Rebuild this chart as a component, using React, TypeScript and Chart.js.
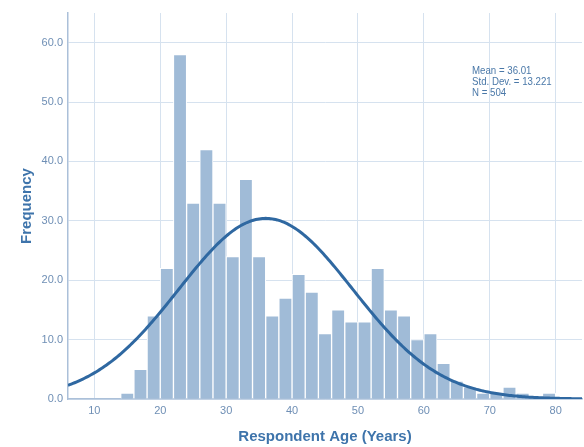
import React, { useEffect, useRef } from "react";
import { Chart, registerables } from "chart.js";

Chart.register(...registerables);

// Histogram bins (2-year width): bin start ages
const binStarts = [14, 16, 18, 20, 22, 24, 26, 28, 30, 32, 34, 36, 38, 40, 42, 44, 46, 48, 50, 52, 54, 56, 58, 60, 62, 64, 66, 68, 70, 72, 74, 76, 78];
const frequencies = [1, 5, 14, 22, 58, 33, 42, 33, 24, 37, 24, 14, 17, 21, 18, 11, 15, 13, 13, 22, 15, 14, 10, 11, 6, 3, 2, 1, 1, 2, 1, 0, 1];
const BIN_WIDTH = 2;
const MEAN = 36.01;
const STD_DEV = 13.221;
const N = 504;
const xTicks = [10, 20, 30, 40, 50, 60, 70, 80];
const yTicks = [0, 10, 20, 30, 40, 50, 60];
const statsLines = ["Mean = 36.01", "Std. Dev. = 13.221", "N = 504"];
const X_MIN = 6;
const X_MAX = 84;
const Y_MAX = 65;

export default function App() {
  const ref = useRef<HTMLCanvasElement | null>(null);

  useEffect(() => {
    document.body.style.margin = "0";
    const canvas = ref.current;
    if (!canvas) return;

    const barData = binStarts.map((s, i) => ({ x: s + BIN_WIDTH / 2, y: frequencies[i] }));
    const curve: { x: number; y: number }[] = [];
    for (let x = X_MIN; x <= X_MAX + 0.001; x += 0.25) {
      const z = (x - MEAN) / STD_DEV;
      curve.push({ x, y: (N * BIN_WIDTH) / (STD_DEV * Math.sqrt(2 * Math.PI)) * Math.exp(-0.5 * z * z) });
    }

    const statsPlugin = {
      id: "stats",
      afterDraw(chart: any) {
        const ctx = chart.ctx;
        ctx.save();
        ctx.font = "11px 'Liberation Sans', Arial, sans-serif";
        ctx.fillStyle = "#4a78a8";
        ctx.textAlign = "left";
        ctx.textBaseline = "middle";
        ctx.translate(472, 0);
        ctx.scale(0.88, 1);
        statsLines.forEach((t, i) => ctx.fillText(t, 0, 71 + i * 11));
        ctx.restore();
      },
    };

    const chart = new Chart(canvas, {
      type: "bar",
      data: {
        datasets: [
          {
            type: "line",
            data: curve,
            borderColor: "#2f68a1",
            borderWidth: 3,
            pointRadius: 0,
            tension: 0,
            order: 0,
          } as any,
          {
            type: "bar",
            data: barData,
            backgroundColor: "#a0bbd7",
            borderColor: "#ffffff",
            borderWidth: 1,
            barPercentage: 1,
            categoryPercentage: 1,
            order: 1,
          } as any,
        ],
      },
      options: {
        animation: false,
        responsive: false,
        maintainAspectRatio: false,
        layout: { padding: { left: 0, top: 13, right: 2, bottom: 0 } },
        plugins: { legend: { display: false }, tooltip: { enabled: false } },
        scales: {
          x: {
            type: "linear",
            min: X_MIN,
            max: X_MAX,
            offset: false,
            afterBuildTicks: (s: any) => {
              s.ticks = xTicks.map((v) => ({ value: v }));
            },
            afterFit: (s: any) => {
              s.height = 48;
            },
            grid: { color: "#d6e2ef", drawTicks: false, lineWidth: 1, offset: false },
            border: { color: "#abc0d9", width: 1.5 },
            ticks: {
              color: "#6f8fb5",
              font: { family: "'Liberation Sans', Arial, sans-serif", size: 11 },
              padding: 5,
              maxRotation: 0,
              callback: (v: any) => String(v),
            },
            title: {
              display: true,
              text: "Respondent Age (Years)",
              color: "#3e74ab",
              font: { family: "'Liberation Sans', Arial, sans-serif", size: 15, weight: "bold" },
              padding: { top: 0, bottom: 1 },
            },
          },
          y: {
            type: "linear",
            min: 0,
            max: Y_MAX,
            afterBuildTicks: (s: any) => {
              s.ticks = yTicks.map((v) => ({ value: v }));
            },
            afterFit: (s: any) => {
              s.width = 68;
            },
            grid: { color: "#d6e2ef", drawTicks: false, lineWidth: 1 },
            border: { color: "#abc0d9", width: 1.5 },
            ticks: {
              color: "#6f8fb5",
              font: { family: "'Liberation Sans', Arial, sans-serif", size: 11 },
              padding: 5,
              callback: (v: any) => Number(v).toFixed(1),
            },
            title: {
              display: true,
              text: "Frequency",
              color: "#3e74ab",
              font: { family: "'Liberation Sans', Arial, sans-serif", size: 15, weight: "bold" },
              padding: { top: 18, bottom: 0 },
            },
          },
        },
      },
      plugins: [statsPlugin],
    });

    return () => chart.destroy();
  }, []);

  return (
    <div style={{ width: 584, height: 447, position: "relative" }}>
      <canvas ref={ref} width={584} height={447} style={{ display: "block", width: 584, height: 447 }} />
    </div>
  );
}
